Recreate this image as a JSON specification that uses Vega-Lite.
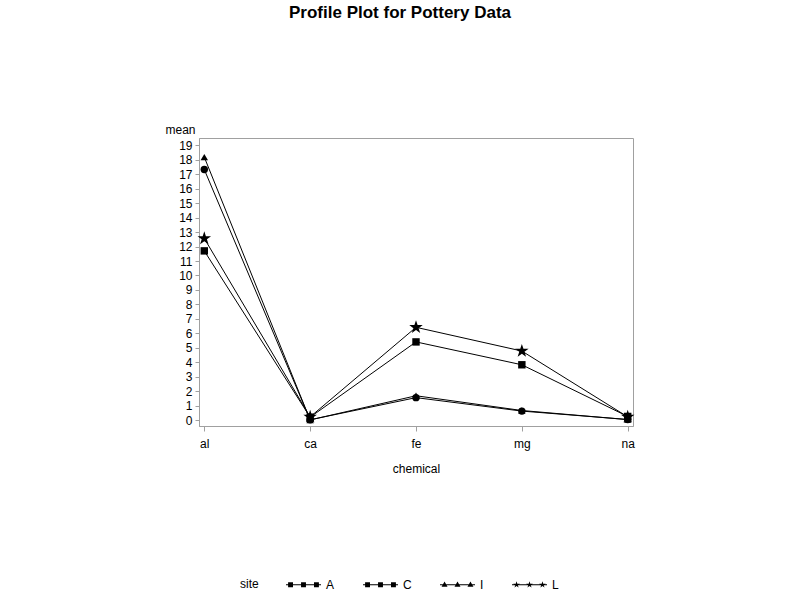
{
  "$schema": "https://vega.github.io/schema/vega-lite/v6.json",
  "autosize": "none",
  "width": 434,
  "height": 288,
  "padding": {"left": 199, "top": 138, "right": 167, "bottom": 174},
  "background": "white",
  "config": {
    "font": "Liberation Sans",
    "view": {"stroke": "#a0a0a0"},
    "axis": {"labelFont": "Liberation Sans", "titleFont": "Liberation Sans", "labelFontSize": 12, "titleFontSize": 12, "titleFontWeight": "normal", "labelColor": "black", "titleColor": "black", "domainColor": "#a0a0a0", "tickColor": "#a0a0a0", "grid": false}
  },
  "title": {"text": "Profile Plot for Pottery Data", "fontSize": 17, "fontWeight": "bold", "font": "Liberation Sans", "offset": 101, "dx": -16},
  "data": {
    "values": [
      {"site": "A", "chemical": "al", "mean": 17.32},
      {"site": "A", "chemical": "ca", "mean": 0.03},
      {"site": "A", "chemical": "fe", "mean": 1.56},
      {"site": "A", "chemical": "mg", "mean": 0.63},
      {"site": "A", "chemical": "na", "mean": 0.05},
      {"site": "C", "chemical": "al", "mean": 11.7},
      {"site": "C", "chemical": "ca", "mean": 0.21},
      {"site": "C", "chemical": "fe", "mean": 5.41},
      {"site": "C", "chemical": "mg", "mean": 3.83},
      {"site": "C", "chemical": "na", "mean": 0.26},
      {"site": "I", "chemical": "al", "mean": 18.18},
      {"site": "I", "chemical": "ca", "mean": 0.02},
      {"site": "I", "chemical": "fe", "mean": 1.69},
      {"site": "I", "chemical": "mg", "mean": 0.67},
      {"site": "I", "chemical": "na", "mean": 0.04},
      {"site": "L", "chemical": "al", "mean": 12.56},
      {"site": "L", "chemical": "ca", "mean": 0.23},
      {"site": "L", "chemical": "fe", "mean": 6.42},
      {"site": "L", "chemical": "mg", "mean": 4.78},
      {"site": "L", "chemical": "na", "mean": 0.23}
    ]
  },
  "encoding": {
    "x": {
      "field": "chemical", "type": "nominal", "title": "chemical",
      "scale": {"type": "point", "padding": 0.05},
      "axis": {"labelAngle": 0, "tickSize": 5, "labelPadding": 7, "titlePadding": 14}
    },
    "y": {
      "field": "mean", "type": "quantitative", "title": "mean",
      "scale": {"domain": [-0.4, 19.5], "nice": false, "zero": false},
      "axis": {"values": [0,1,2,3,4,5,6,7,8,9,10,11,12,13,14,15,16,17,18,19], "tickSize": 4, "labelPadding": 3, "titleAngle": 0, "titleX": -4, "titleY": -2, "titleAlign": "right", "titleBaseline": "bottom"}
    }
  },
  "layer": [
    {
      "mark": {"type": "line", "color": "black", "strokeWidth": 1},
      "encoding": {"detail": {"field": "site", "type": "nominal"}}
    },
    {
      "mark": {"type": "point", "filled": true, "color": "black", "opacity": 1},
      "encoding": {
        "shape": {
          "field": "site", "type": "nominal",
          "scale": {"domain": ["A", "C", "I", "L"], "range": ["circle", "square", "triangle-up", "M0,-1.2L0.27,-0.37L1.14,-0.37L0.44,0.14L0.71,0.97L0,0.46L-0.71,0.97L-0.44,0.14L-1.14,-0.37L-0.27,-0.37Z"]},
          "legend": null
        },
        "size": {"condition": {"test": "datum.site === 'L'", "value": 140}, "value": 55}
      }
    },
    {
      "mark": {"type": "point", "filled": true, "color": "black", "opacity": 0},
      "encoding": {
        "shape": {
          "field": "site", "type": "nominal",
          "scale": {"domain": ["A", "C", "I", "L"], "range": [
            "M-1,-0.03H1V0.03H-1Z M-0.88,-0.14H-0.6V0.14H-0.88Z M-0.14,-0.14H0.14V0.14H-0.14Z M0.6,-0.14H0.88V0.14H0.6Z",
            "M-1,-0.03H1V0.03H-1Z M-0.88,-0.14H-0.6V0.14H-0.88Z M-0.14,-0.14H0.14V0.14H-0.14Z M0.6,-0.14H0.88V0.14H0.6Z",
            "M-1,-0.03H1V0.03H-1Z M-0.74,-0.18L-0.57,0.12L-0.91,0.12Z M0,-0.18L0.17,0.12L-0.17,0.12Z M0.74,-0.18L0.91,0.12L0.57,0.12Z",
            "M-1,-0.03H1V0.03H-1Z M0,-0.2L0.045,-0.062L0.19,-0.062L0.073,0.024L0.118,0.162L0,0.076L-0.118,0.162L-0.073,0.024L-0.19,-0.062L-0.045,-0.062Z M-0.74,-0.2L-0.695,-0.062L-0.55,-0.062L-0.667,0.024L-0.622,0.162L-0.74,0.076L-0.858,0.162L-0.813,0.024L-0.93,-0.062L-0.785,-0.062Z M0.74,-0.2L0.785,-0.062L0.93,-0.062L0.813,0.024L0.858,0.162L0.74,0.076L0.622,0.162L0.667,0.024L0.55,-0.062L0.695,-0.062Z"
          ]},
          "legend": {
            "orient": "none", "legendX": 41, "legendY": 429, "direction": "horizontal",
            "titleOrient": "left", "titleAnchor": "middle", "titleBaseline": "top", "title": "site", "titleFontWeight": "normal", "titleFontSize": 12, "titleFont": "Liberation Sans",
            "labelFont": "Liberation Sans", "labelFontSize": 12, "labelOffset": 5,
            "symbolFillColor": "black", "symbolStrokeColor": "black", "symbolStrokeWidth": 0, "symbolSize": 1225, "symbolOpacity": 1,
            "columnPadding": 28, "titlePadding": 27
          }
        }
      }
    }
  ],
  "resolve": {"scale": {"shape": "independent"}, "legend": {"shape": "independent"}}
}
